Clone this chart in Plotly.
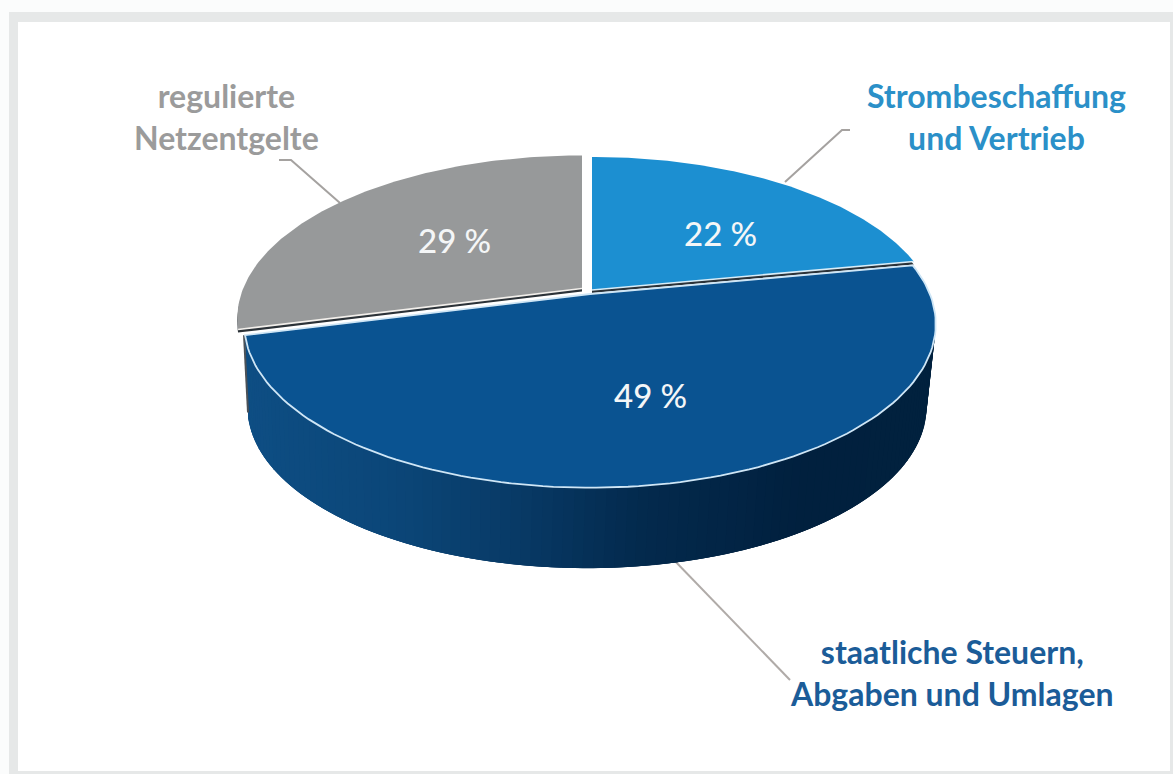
import math
import plotly.graph_objects as go

# ---- data ----
categories = ["Strombeschaffung und Vertrieb", "staatliche Steuern, Abgaben und Umlagen", "regulierte Netzentgelte"]
shares = [22, 49, 29]
share_labels = ["22 %", "49 %", "29 %"]
category_labels = ["Strombeschaffung<br>und Vertrieb", "staatliche Steuern,<br>Abgaben und Umlagen", "regulierte<br>Netzentgelte"]

# ---- styling ----
TOP_COLORS = ["#1c8fd1", "#0a5391", "#97999a"]
LABEL_COLORS = ["#2b90c8", "#1b5c98", "#9b9b9b"]
WALL_STOPS = [(245, (14, 78, 132)), (400, (11, 70, 120)), (520, (8, 58, 102)),
              (640, (3, 42, 78)), (800, (1, 32, 62)), (935, (1, 33, 62))]

W, H = 1173, 774
A, B, K = 344.0, 160.0, 0.184   # perspective ellipse
AX, AY = 586.0, 292.0           # pie centre on page


def project(t, cx=AX, cy=AY, s=1.0):
    d = 1 + K * math.cos(t)
    return cx + s * A * math.sin(t) / d, cy - s * B * math.cos(t) / d


def slice_poly(t0, t1, cx, cy, s=1.0, n=120):
    pts = [(cx, cy)] + [project(t0 + (t1 - t0) * i / n, cx, cy, s) for i in range(n + 1)] + [(cx, cy)]
    return [p[0] for p in pts], [p[1] for p in pts]


def wall_color(x):
    for (x0, c0), (x1, c1) in zip(WALL_STOPS, WALL_STOPS[1:]):
        if x <= x1:
            f = max(0, (x - x0) / (x1 - x0))
            return "rgb(%d,%d,%d)" % tuple(round(a + (b - a) * f) for a, b in zip(c0, c1))
    return "rgb(%d,%d,%d)" % WALL_STOPS[-1][1]


total = sum(shares)
angles = [0]
for v in shares:
    angles.append(angles[-1] + 2 * math.pi * v / total)

fig = go.Figure()


def poly(xs, ys, fill, line=None, width=0):
    fig.add_trace(go.Scatter(x=xs, y=ys, mode="lines", fill="toself", fillcolor=fill,
                             line=dict(color=line or fill, width=width), hoverinfo="skip", showlegend=False))


def stroke(xs, ys, color, width):
    fig.add_trace(go.Scatter(x=xs, y=ys, mode="lines", line=dict(color=color, width=width),
                             hoverinfo="skip", showlegend=False))


# leader lines
stroke([279, 291, 340], [160, 160, 203], "#a5a2a0", 2)
stroke([850, 842, 785], [130, 130, 182], "#a5a2a0", 2)
stroke([672, 790], [558, 680], "#b0aba8", 2)

# side wall of the middle slice: overlapping bands, painted in angle order
TOPDISC = dict(cx=590.0, cy=294.0, s=0.988)
BOT = dict(cx=587.0, cy=378.0, s=0.97)
N = 120
t0, t1 = angles[1], angles[2]
for i in range(N):
    a = t0 + (t1 - t0) * i / N
    b = min(t1, t0 + (t1 - t0) * (i + 3) / N)
    p = [project(a, **TOPDISC), project(b, **TOPDISC), project(b, **BOT), project(a, **BOT)]
    xs = [q[0] for q in p] + [p[0][0]]
    ys = [q[1] for q in p] + [p[0][1]]
    poly(xs, ys, wall_color(p[3][0]))

# dark inner edge at the left end
e0, e1 = project(t1, **TOPDISC), project(t1, **BOT)
stroke([e0[0] - 1, e0[0] + 3], [e0[1], e1[1] - 6], "#4b5157", 2)

# exploded upper slices, with their dark cut faces just below
OFFSETS = {0: (6.0, -2.0, 0.985), 2: (-4.0, -3.5, 0.985)}
for idx, (dx, dy, s) in OFFSETS.items():
    a, b = angles[idx], angles[idx + 1]
    xs, ys = slice_poly(a, b, AX + dx, AY + dy, s)
    poly(xs, [y + 3 for y in ys], "#2b3238")
    poly(xs, ys, TOP_COLORS[idx])
    # light highlight along the lower radial edge
    if idx == 0:
        p = project(b, AX + dx, AY + dy, s)
        stroke([AX + dx, p[0]], [AY + dy, p[1]], "#d9edf8", 1.6)
    else:
        p = project(a, AX + dx, AY + dy, s)
        stroke([AX + dx, p[0]], [AY + dy, p[1]], "#f2efeb", 1.6)

# middle slice on top
xs, ys = slice_poly(angles[1], angles[2], TOPDISC["cx"], TOPDISC["cy"], TOPDISC["s"])
poly(xs, ys, TOP_COLORS[1], "#cfe6f6", 1.8)

# percent labels
PCT_POS = [(720, 233), (650, 395), (454, 240)]
ann = []
for (x, y), t in zip(PCT_POS, share_labels):
    ann.append(dict(x=x, y=y, text=t, showarrow=False, xref="x", yref="y",
                    font=dict(family="Lato", size=33, color="#f4f6f7", weight=500)))
LAB_POS = [(996, 116), (952, 672), (226, 116)]
for (x, y), t, c in zip(LAB_POS, category_labels, LABEL_COLORS):
    ann.append(dict(x=x, y=y, text=t, showarrow=False, xref="x", yref="y", align="center",
                    font=dict(family="Lato", size=32, color=c, weight=700)))

shapes = [
    dict(type="rect", layer="below", x0=9, x1=W, y0=12, y1=H + 2, fillcolor="#e6e8e8", line_width=0),
    dict(type="rect", layer="below", x0=18, x1=1170, y0=22, y1=771, fillcolor="#ffffff", line_width=0),
]

fig.update_layout(
    width=W, height=H, margin=dict(l=0, r=0, t=0, b=0), autosize=False,
    paper_bgcolor="#fbfcfc", plot_bgcolor="#fbfcfc", showlegend=False,
    xaxis=dict(range=[0, W], visible=False, fixedrange=True),
    yaxis=dict(range=[H, 0], visible=False, fixedrange=True),
    shapes=shapes, annotations=ann,
)
fig.write_html("out.html", config={"displayModeBar": False},
               post_script="document.body.style.margin='0';document.body.style.overflow='hidden';")
